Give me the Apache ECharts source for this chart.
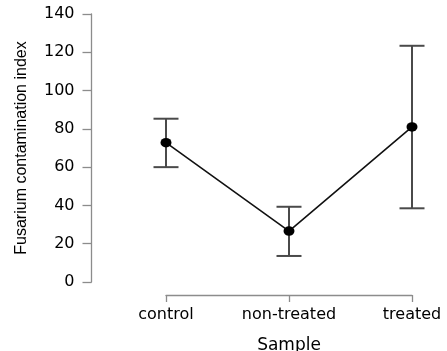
<!DOCTYPE html>
<html>
<head>
<meta charset="utf-8">
<script src="https://cdn.jsdelivr.net/npm/echarts@6/dist/echarts.min.js"></script>
<style>html,body{margin:0;padding:0;background:#fff}#c{width:447px;height:351px}</style>
</head>
<body>
<div id="c"></div>
<script>
var categories = ['control', 'non-treated', 'treated'];
var means = [72.8, 26.6, 81.0];
var lowers = [60.0, 13.6, 38.5];
var uppers = [85.3, 39.3, 123.4];
var yTicks = [0, 20, 40, 60, 80, 100, 120, 140];

var chart = echarts.init(document.getElementById('c'), null, {renderer: 'canvas'});
var errData = categories.map(function (c, i) { return [i, lowers[i], uppers[i]]; });

chart.setOption({
  animation: false,
  backgroundColor: '#fff',
  grid: {left: 166, right: 35, top: 14, bottom: 69, containLabel: false, outerBoundsMode: 'none'},
  xAxis: {
    type: 'category',
    data: categories,
    boundaryGap: false,
    offset: 13,
    name: 'Sample',
    nameLocation: 'middle',
    nameGap: 42,
    nameTextStyle: {fontFamily: 'DejaVu Sans', fontSize: 17, color: '#000'},
    axisLine: {show: true, onZero: false, lineStyle: {color: '#8c8c8c', width: 1.3}},
    axisTick: {show: true, alignWithLabel: true, length: 7, lineStyle: {color: '#8c8c8c', width: 1.3}},
    axisLabel: {fontFamily: 'DejaVu Sans', fontSize: 16, color: '#000', margin: 12, interval: 0},
    splitLine: {show: false}
  },
  yAxis: {
    type: 'value',
    min: yTicks[0],
    max: yTicks[yTicks.length - 1],
    interval: 20,
    offset: 74.5,
    name: 'Fusarium contamination index',
    nameLocation: 'middle',
    nameGap: 62,
    nameRotate: 90,
    nameTextStyle: {fontFamily: 'Liberation Sans', fontSize: 16, color: '#000'},
    axisLine: {show: true, onZero: false, lineStyle: {color: '#8c8c8c', width: 1.3}},
    axisTick: {show: true, length: 9, lineStyle: {color: '#8c8c8c', width: 1.3}},
    axisLabel: {fontFamily: 'DejaVu Sans', fontSize: 16, color: '#000', margin: 17},
    splitLine: {show: false}
  },
  series: [
    {
      type: 'custom',
      data: errData,
      z: 1,
      renderItem: function (params, api) {
        var x = api.value(0);
        var lo = api.coord([x, api.value(1)]);
        var hi = api.coord([x, api.value(2)]);
        var hw = 12.5;
        var st = {stroke: '#4a4a4a', lineWidth: 2, fill: null};
        return {
          type: 'group',
          children: [
            {type: 'line', shape: {x1: lo[0], y1: lo[1], x2: hi[0], y2: hi[1]}, style: st},
            {type: 'line', shape: {x1: lo[0] - hw, y1: lo[1], x2: lo[0] + hw, y2: lo[1]}, style: st},
            {type: 'line', shape: {x1: hi[0] - hw, y1: hi[1], x2: hi[0] + hw, y2: hi[1]}, style: st}
          ]
        };
      }
    },
    {
      type: 'line',
      data: means,
      z: 3,
      symbol: 'circle',
      symbolSize: [11, 9.5],
      showSymbol: true,
      lineStyle: {color: '#111', width: 1.6},
      itemStyle: {color: '#000'}
    }
  ]
});
</script>
</body>
</html>
